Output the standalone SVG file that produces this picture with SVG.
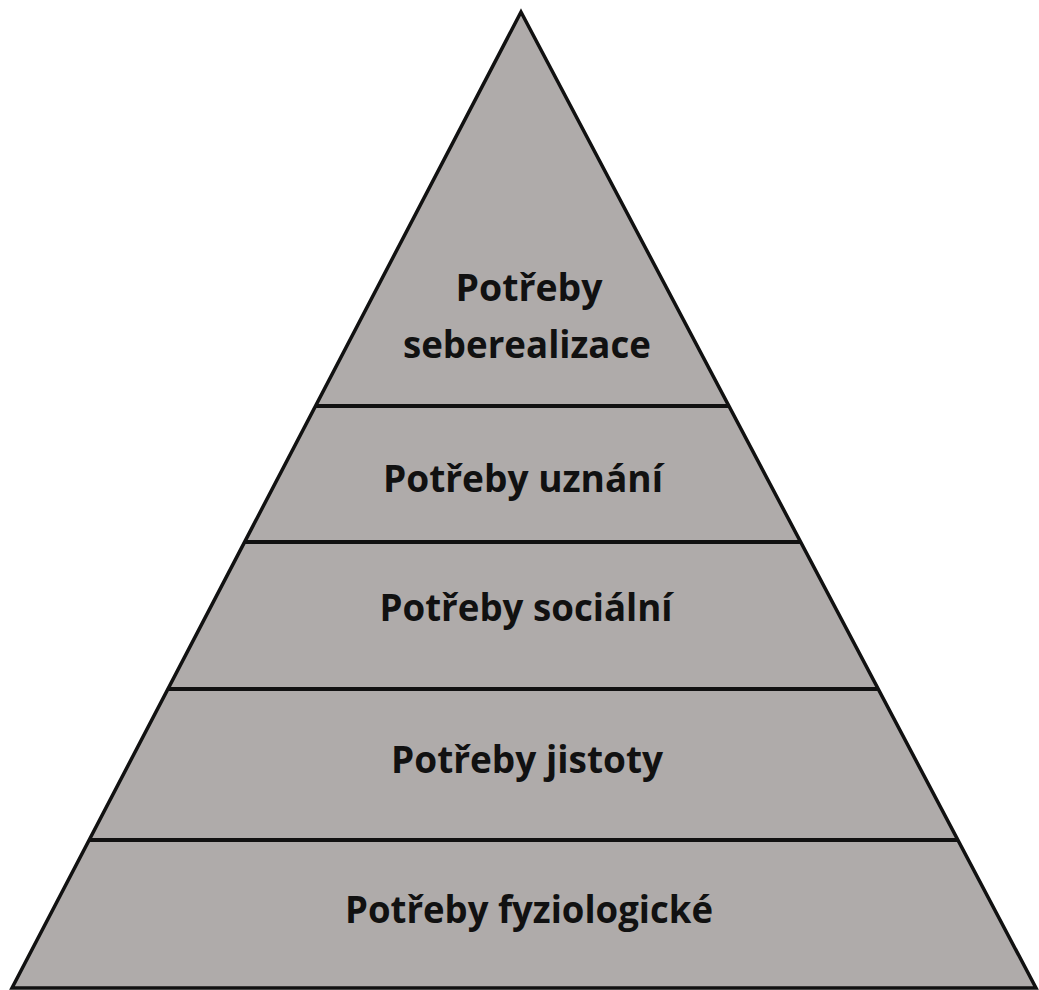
<svg xmlns="http://www.w3.org/2000/svg" width="1039" height="990" viewBox="0 0 1039 990">
<style>
.lvl{fill:#afabaa;stroke:#111;stroke-width:3.5;stroke-linejoin:miter}
.div{stroke:#111;stroke-width:4}
.t{font-family:"Open Sans","Liberation Sans",sans-serif;font-weight:700;font-size:38px;fill:#111;text-anchor:middle}
</style>
<rect width="1039" height="990" fill="#fff"/>
<g id="pyramid">
<polygon class="lvl" points="521,12 1036,988 12,988"/>
</g>
<g id="dividers">
<line class="div" x1="316" y1="406" x2="729" y2="406"/>
<line class="div" x1="245" y1="542" x2="801" y2="542"/>
<line class="div" x1="169" y1="689" x2="878" y2="689"/>
<line class="div" x1="90" y1="840" x2="957" y2="840"/>
</g>
<g id="level5"><text class="t" x="529" y="301" textLength="147" lengthAdjust="spacingAndGlyphs">Potřeby</text><text class="t" x="527" y="358" textLength="248" lengthAdjust="spacingAndGlyphs">seberealizace</text></g>
<g id="level4"><text class="t" x="523" y="492" textLength="280" lengthAdjust="spacingAndGlyphs">Potřeby uznání</text></g>
<g id="level3"><text class="t" x="526" y="621" textLength="293" lengthAdjust="spacingAndGlyphs">Potřeby sociální</text></g>
<g id="level2"><text class="t" x="527" y="773" textLength="272" lengthAdjust="spacingAndGlyphs">Potřeby jistoty</text></g>
<g id="level1"><text class="t" x="529" y="923" textLength="368" lengthAdjust="spacingAndGlyphs">Potřeby fyziologické</text></g>
</svg>
